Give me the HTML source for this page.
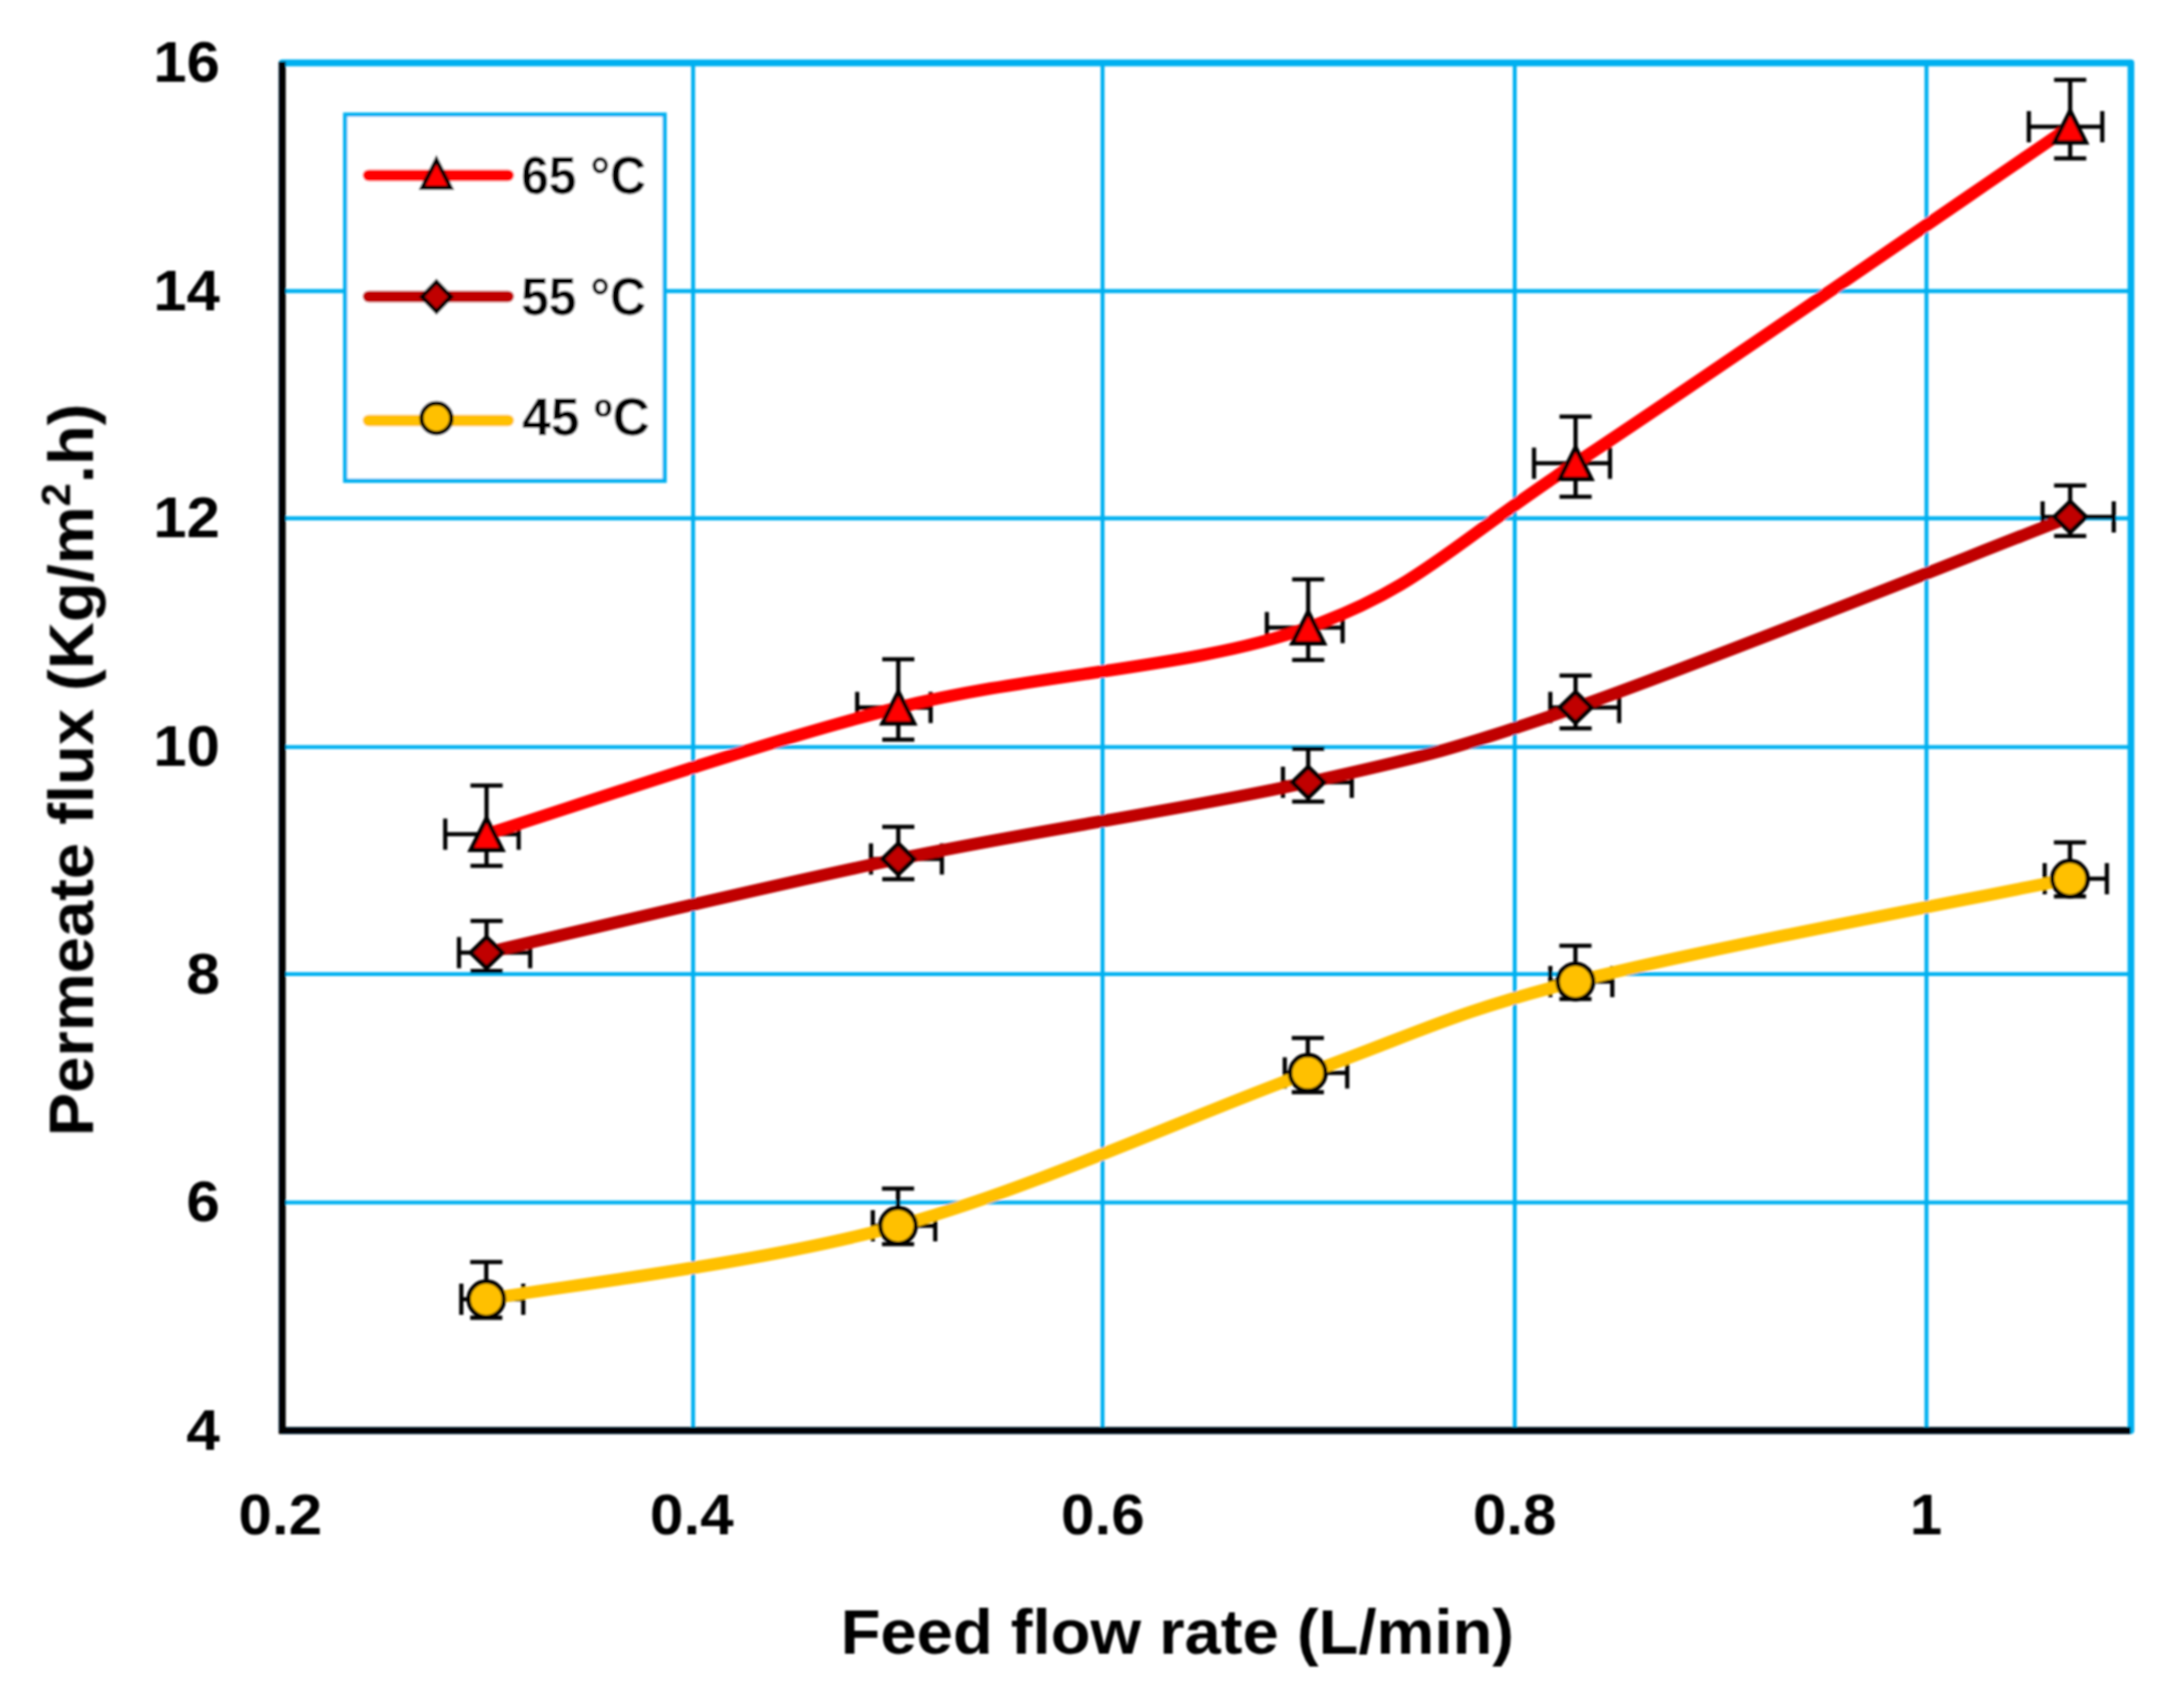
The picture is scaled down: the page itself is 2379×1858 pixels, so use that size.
<!DOCTYPE html>
<html lang="en"><head><meta charset="utf-8"><title>Permeate flux vs feed flow rate</title>
<style>
html,body{margin:0;padding:0;background:#fff;}
body{width:2379px;height:1858px;overflow:hidden;}
svg{display:block;}
text{font-family:"Liberation Sans",sans-serif;font-weight:bold;fill:#000;}
</style></head><body>
<svg width="2379" height="1858" viewBox="0 0 2379 1858">
<rect width="2379" height="1858" fill="#fff"/>
<defs><filter id="soft" x="0" y="0" width="2379" height="1858" filterUnits="userSpaceOnUse"><feGaussianBlur stdDeviation="0.8"/></filter></defs>
<g filter="url(#soft)">
<path d="M755.0,68.5V1558.0M1201.0,68.5V1558.0M1650.0,68.5V1558.0M2098.5,68.5V1558.0M307.4,317.0H2321.2M307.4,564.5H2321.2M307.4,813.7H2321.2M307.4,1060.8H2321.2M307.4,1309.7H2321.2" fill="none" stroke="#00B0F0" stroke-width="4.3"/>
<rect x="307.4" y="68.5" width="2013.7999999999997" height="1489.5" fill="none" stroke="#00B0F0" stroke-width="7.3" stroke-linejoin="round"/>
<path d="M307.4,67.0V1561.8M303.59999999999997,1558.0H2320.7999999999997" fill="none" stroke="#000" stroke-width="7.6"/>
<rect x="376" y="124.8" width="348" height="398.8" fill="#fff" stroke="#00B0F0" stroke-width="4.6"/>
<path d="M530,855.5V943M512.5,855.5H547.5M512.5,943H547.5M485,908.5H565M485,891.5V925.5M565,891.5V925.5M978.5,718V805.5M961.0,718H996.0M961.0,805.5H996.0M933.75,770.6H1013.75M933.75,753.6V787.6M1013.75,753.6V787.6M1425,631V718.75M1407.5,631H1442.5M1407.5,718.75H1442.5M1380,683.5H1462.5M1380,666.5V700.5M1462.5,666.5V700.5M1716.25,453.75V541M1698.75,453.75H1733.75M1698.75,541H1733.75M1671,504.5H1753.75M1671,487.5V521.5M1753.75,487.5V521.5M2255,87V172.5M2237.5,87H2272.5M2237.5,172.5H2272.5M2210,138H2290M2210,121.0V155.0M2290,121.0V155.0" fill="none" stroke="#000" stroke-width="4.6"/>
<path d="M530.00,908.50 C604.75,885.52 829.33,808.10 978.50,770.60 C1127.67,733.10 1302.04,727.85 1425.00,683.50 C1547.96,639.15 1577.92,595.42 1716.25,504.50 C1854.58,413.58 2165.21,199.08 2255.00,138.00" fill="none" stroke="#FF0000" stroke-width="13.5" stroke-linecap="round" stroke-linejoin="round"/>
<g fill="#FF0000" stroke="#000" stroke-width="4.7" stroke-linejoin="miter"><path d="M530,891.30L547.25,925.70H512.75Z"/><path d="M978.5,753.40L995.75,787.80H961.25Z"/><path d="M1425,666.30L1442.25,700.70H1407.75Z"/><path d="M1716.25,487.30L1733.50,521.70H1699.00Z"/><path d="M2255,120.80L2272.25,155.20H2237.75Z"/></g>
<path d="M530,1003V1057.5M512.5,1003H547.5M512.5,1057.5H547.5M500,1037.5H577.5M500,1020.5V1054.5M577.5,1020.5V1054.5M978.5,900.5V957.5M961.0,900.5H996.0M961.0,957.5H996.0M948.75,935.5H1026M948.75,918.5V952.5M1026,918.5V952.5M1425,815.5V873M1407.5,815.5H1442.5M1407.5,873H1442.5M1397.5,852H1472.5M1397.5,835.0V869.0M1472.5,835.0V869.0M1716.25,735.7V793.3M1698.75,735.7H1733.75M1698.75,793.3H1733.75M1688.75,770.5H1763.75M1688.75,753.5V787.5M1763.75,753.5V787.5M2255,528.75V583.75M2237.5,528.75H2272.5M2237.5,583.75H2272.5M2225,563H2302.5M2225,546.0V580.0M2302.5,546.0V580.0" fill="none" stroke="#000" stroke-width="4.6"/>
<path d="M530.00,1037.50 C604.75,1020.50 829.33,966.42 978.50,935.50 C1127.67,904.58 1302.04,879.50 1425.00,852.00 C1547.96,824.50 1577.92,818.67 1716.25,770.50 C1854.58,722.33 2165.21,597.58 2255.00,563.00" fill="none" stroke="#C00000" stroke-width="13.5" stroke-linecap="round" stroke-linejoin="round"/>
<g fill="#C00000" stroke="#000" stroke-width="4.7" stroke-linejoin="miter"><path d="M530,1020.75L547.25,1037.5L530,1054.25L512.75,1037.5Z"/><path d="M978.5,918.75L995.75,935.5L978.5,952.25L961.25,935.5Z"/><path d="M1425,835.25L1442.25,852L1425,868.75L1407.75,852Z"/><path d="M1716.25,753.75L1733.50,770.5L1716.25,787.25L1699.00,770.5Z"/><path d="M2255,546.25L2272.25,563L2255,579.75L2237.75,563Z"/></g>
<path d="M529.7,1374.5V1435.1M512.2,1374.5H547.2M512.2,1435.1H547.2M502.5,1415H570M502.5,1398.0V1432.0M570,1398.0V1432.0M978.2,1294.5V1355M960.7,1294.5H995.7M960.7,1355H995.7M950.75,1335H1018.75M950.75,1318.0V1352.0M1018.75,1318.0V1352.0M1424.6,1130.5V1189.5M1407.1,1130.5H1442.1M1407.1,1189.5H1442.1M1399.5,1168.5H1467.5M1399.5,1151.5V1185.5M1467.5,1151.5V1185.5M1716.1,1030V1088M1698.6,1030H1733.6M1698.6,1088H1733.6M1688.75,1069H1756.25M1688.75,1052.0V1086.0M1756.25,1052.0V1086.0M2254.8,917.5V976.25M2237.3,917.5H2272.3M2237.3,976.25H2272.3M2227.25,957H2295M2227.25,940.0V974.0M2295,940.0V974.0" fill="none" stroke="#000" stroke-width="4.6"/>
<path d="M529.70,1415.00 C604.45,1401.67 829.05,1376.08 978.20,1335.00 C1127.35,1293.92 1301.62,1212.83 1424.60,1168.50 C1547.58,1124.17 1577.73,1104.25 1716.10,1069.00 C1854.47,1033.75 2165.02,975.67 2254.80,957.00" fill="none" stroke="#FFC000" stroke-width="13.5" stroke-linecap="round" stroke-linejoin="round"/>
<g fill="#FFC000" stroke="#000" stroke-width="4.7" stroke-linejoin="miter"><circle cx="529.7" cy="1415" r="19.3"/><circle cx="978.2" cy="1335" r="19.3"/><circle cx="1424.6" cy="1168.5" r="19.3"/><circle cx="1716.1" cy="1069" r="19.3"/><circle cx="2254.8" cy="957" r="19.3"/></g>
<path d="M401.5,191H553.5" stroke="#FF0000" stroke-width="12.5" stroke-linecap="round"/>
<g fill="#FF0000" stroke="#000" stroke-width="4.7"><path d="M475.4,174.00L490.90,204.50H459.90Z"/></g>
<path d="M401.5,323H553.5" stroke="#C00000" stroke-width="12.5" stroke-linecap="round"/>
<g fill="#C00000" stroke="#000" stroke-width="4.7"><path d="M475.4,306.95L491.15,323.2L475.4,339.45L459.65,323.2Z"/></g>
<path d="M401.5,458H553.5" stroke="#FFC000" stroke-width="12.5" stroke-linecap="round"/>
<g fill="#FFC000" stroke="#000" stroke-width="4.7"><circle cx="475.4" cy="455.5" r="16.3"/></g>
<text x="567.7" y="210.5" font-size="57" textLength="136" lengthAdjust="spacingAndGlyphs">65 °C</text>
<text x="567.7" y="342.5" font-size="57" textLength="136" lengthAdjust="spacingAndGlyphs">55 °C</text>
<text x="568.8" y="474.3" font-size="57" textLength="139" lengthAdjust="spacingAndGlyphs">45 ºC</text>
<text x="167.1" y="89.2" font-size="63" textLength="72.5" lengthAdjust="spacingAndGlyphs">16</text>
<text x="167.1" y="337.7" font-size="63" textLength="72.5" lengthAdjust="spacingAndGlyphs">14</text>
<text x="167.1" y="585.2" font-size="63" textLength="72.5" lengthAdjust="spacingAndGlyphs">12</text>
<text x="167.1" y="834.4" font-size="63" textLength="72.5" lengthAdjust="spacingAndGlyphs">10</text>
<text x="203.1" y="1081.5" font-size="63" textLength="36.5" lengthAdjust="spacingAndGlyphs">8</text>
<text x="203.1" y="1330.4" font-size="63" textLength="36.5" lengthAdjust="spacingAndGlyphs">6</text>
<text x="203.1" y="1578.7" font-size="63" textLength="36.5" lengthAdjust="spacingAndGlyphs">4</text>
<text x="259.8" y="1671.3" font-size="63" textLength="91" lengthAdjust="spacingAndGlyphs">0.2</text>
<text x="708.1" y="1671.3" font-size="63" textLength="91" lengthAdjust="spacingAndGlyphs">0.4</text>
<text x="1155.8" y="1671.3" font-size="63" textLength="91" lengthAdjust="spacingAndGlyphs">0.6</text>
<text x="1604.4" y="1671.3" font-size="63" textLength="91" lengthAdjust="spacingAndGlyphs">0.8</text>
<text x="2080.5" y="1671.3" font-size="63" textLength="35" lengthAdjust="spacingAndGlyphs">1</text>
<text x="915.7" y="1801" font-size="68" textLength="733.5" lengthAdjust="spacingAndGlyphs">Feed flow rate (L/min)</text>
<text transform="translate(101.3,1237.5) rotate(-90)" font-size="69" textLength="798" lengthAdjust="spacingAndGlyphs">Permeate flux (Kg/m<tspan font-size="44" dy="-25">2</tspan><tspan dy="25">.h)</tspan></text>
</g></svg></body></html>
